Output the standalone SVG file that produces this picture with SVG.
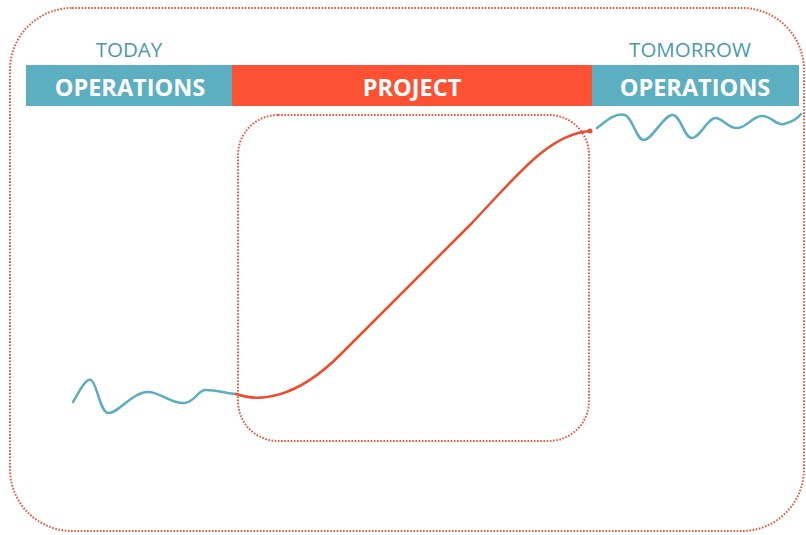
<svg xmlns="http://www.w3.org/2000/svg" width="806" height="535" viewBox="0 0 806 535">
<style>
.dot{fill:none;stroke:#f0553a;stroke-width:2;stroke-dasharray:1.6 1.6}
.teal{fill:#5bafc0}
.red{fill:#fd5133}
.hdr{font-family:"Open Sans","Liberation Sans",sans-serif;font-size:20.5px;fill:#4a9aae;text-anchor:middle}
.lbl{font-family:"Open Sans","Liberation Sans",sans-serif;font-size:23.5px;font-weight:bold;fill:#ffffff;text-anchor:middle}
.wave{fill:none;stroke:#5aaebf;stroke-width:2.5;stroke-linecap:round}
.proj{fill:none;stroke:#ef4a2a;stroke-width:2.5;stroke-linecap:round}
</style>
<rect width="806" height="535" fill="#ffffff"/>
<g id="outer-frame"><rect class="dot" x="10" y="8" width="794" height="523" rx="62" ry="62"/></g>
<g id="project-frame"><rect class="dot" x="238" y="115" width="351" height="326" rx="40" ry="40"/></g>
<g id="today">
<text class="hdr" x="129" y="57">TODAY</text>
<rect class="teal" x="26" y="65" width="206" height="41"/>
<text class="lbl" x="130" y="96">OPERATIONS</text>
</g>
<g id="project">
<rect class="red" x="232" y="65" width="360" height="41"/>
<text class="lbl" x="412" y="96">PROJECT</text>
</g>
<g id="tomorrow">
<text class="hdr" x="690" y="57">TOMORROW</text>
<rect class="teal" x="592" y="65" width="207" height="41"/>
<text class="lbl" x="695" y="96">OPERATIONS</text>
</g>
<g id="connectors">
<path class="wave" d="M73,402 C80,390 86,378 91,380 C97,383 100,412 108,413 C118,414 132,392 148,392 C160,392 172,404 184,403 C196,402 198,389 206,390 C216,390 226,393 236,394"/>
<path class="wave" d="M597,128 C605,122 615,112 625,115 C633,118 636,140 644,140 C652,140 664,114 673,115 C681,116 684,138 692,138 C700,138 708,117 716,118 C724,119 728,129 738,128 C748,127 752,116 762,116 C772,116 776,126 784,124 C792,122 798,118 801,114"/>
<path class="proj" d="M236,394 C258,402 295,400 340,355 L470,225 C515,178 548,134 590,131"/>
<circle cx="590" cy="131" r="2.5" fill="#ef4a2a"/>
</g>
</svg>
